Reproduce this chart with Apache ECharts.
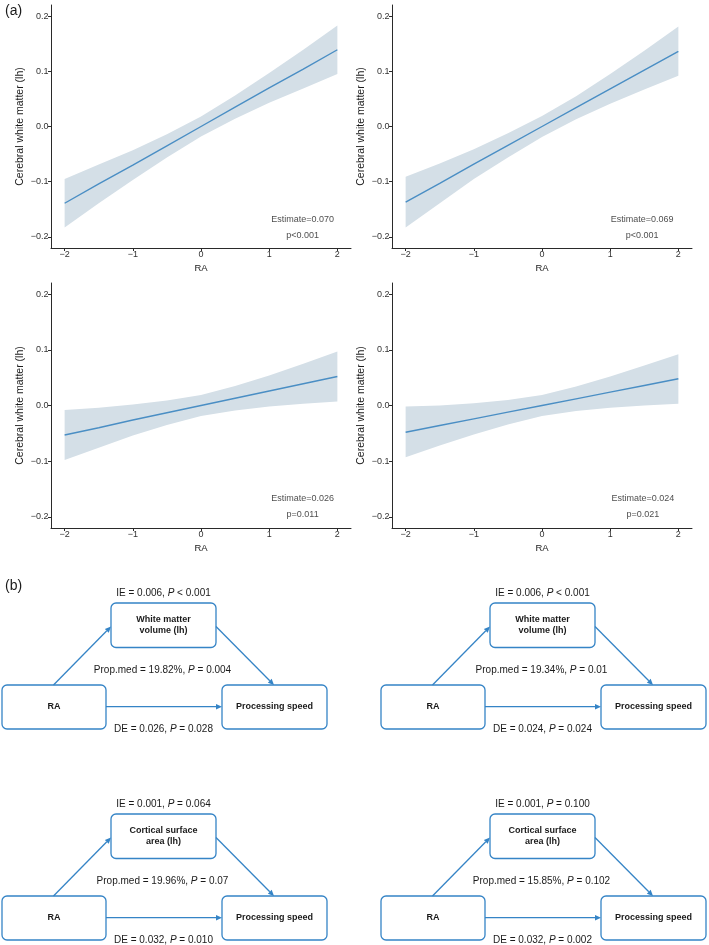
<!DOCTYPE html>
<html>
<head>
<meta charset="utf-8">
<script src="https://cdn.jsdelivr.net/npm/echarts@6/dist/echarts.min.js"></script>
<style>
html,body{margin:0;padding:0;background:#fff;}
#chart{width:709px;height:945px;}
</style>
</head>
<body>
<div id="chart"></div>
<script>
// ---------- Data: panel (a) ----------
const raGrid = [-2, -1.5, -1, -0.5, 0, 0.5, 1, 1.5, 2];
const xTicks = [-2, -1, 0, 1, 2];
const yTicks = [-0.2, -0.1, 0, 0.1, 0.2];

const fitA   = [-0.139, -0.104, -0.070, -0.035, 0.000, 0.035, 0.070, 0.104, 0.139];
const upperA = [-0.095, -0.069, -0.043, -0.014, 0.018, 0.056, 0.097, 0.139, 0.183];
const lowerA = [-0.183, -0.139, -0.097, -0.056, -0.018, 0.014, 0.043, 0.069, 0.095];

const fitB   = [-0.137, -0.103, -0.068, -0.034, 0.000, 0.034, 0.068, 0.102, 0.136];
const upperB = [-0.091, -0.067, -0.041, -0.012, 0.019, 0.055, 0.095, 0.137, 0.181];
const lowerB = [-0.183, -0.139, -0.095, -0.056, -0.019, 0.013, 0.041, 0.067, 0.092];

const fitC   = [-0.053, -0.040, -0.026, -0.013, 0.000, 0.013, 0.026, 0.039, 0.052];
const upperC = [-0.008, -0.004, 0.002, 0.009, 0.019, 0.035, 0.054, 0.075, 0.097];
const lowerC = [-0.098, -0.076, -0.054, -0.035, -0.019, -0.009, -0.002, 0.003, 0.007];

const fitD   = [-0.048, -0.036, -0.024, -0.012, 0.000, 0.012, 0.024, 0.036, 0.048];
const upperD = [-0.002, 0.000, 0.004, 0.010, 0.019, 0.034, 0.052, 0.072, 0.092];
const lowerD = [-0.093, -0.072, -0.052, -0.034, -0.019, -0.010, -0.004, 0.000, 0.003];

const estimateLabels = ['Estimate=0.070', 'Estimate=0.069', 'Estimate=0.026', 'Estimate=0.024'];
const pLabels = ['p<0.001', 'p<0.001', 'p=0.011', 'p=0.021'];
const yTitle = 'Cerebral white matter (lh)';
const xTitle = 'RA';

// ---------- Data: panel (b) ----------
const mediatorNames = ['White matter\nvolume (lh)', 'White matter\nvolume (lh)', 'Cortical surface\narea (lh)', 'Cortical surface\narea (lh)'];
const ieLabels   = ['IE = 0.006, {i|P} < 0.001', 'IE = 0.006, {i|P} < 0.001', 'IE = 0.001, {i|P} = 0.064', 'IE = 0.001, {i|P} = 0.100'];
const propLabels = ['Prop.med = 19.82%, {i|P} = 0.004', 'Prop.med = 19.34%, {i|P} = 0.01', 'Prop.med = 19.96%, {i|P} = 0.07', 'Prop.med = 15.85%, {i|P} = 0.102'];
const deLabels   = ['DE = 0.026, {i|P} = 0.028', 'DE = 0.024, {i|P} = 0.024', 'DE = 0.032, {i|P} = 0.010', 'DE = 0.032, {i|P} = 0.002'];
const exposureName = 'RA';
const outcomeName = 'Processing speed';

// ---------- Layout / style ----------
const FONT = '"Liberation Sans", Arial, Helvetica, sans-serif';
const panels = [
  {fit: fitA, up: upperA, lo: lowerA},
  {fit: fitB, up: upperB, lo: lowerB},
  {fit: fitC, up: upperC, lo: lowerC},
  {fit: fitD, up: upperD, lo: lowerD}
];
const gridBoxes = [
  {left: 51, top: 5, width: 300, height: 243},
  {left: 392, top: 5, width: 300, height: 243},
  {left: 51, top: 283, width: 300, height: 245},
  {left: 392, top: 283, width: 300, height: 245}
];
const annotPos = [[1.49, -0.168, -0.197], [1.47, -0.168, -0.197], [1.49, -0.167, -0.195], [1.48, -0.167, -0.195]];

const LINE_COLOR = '#4a8ec4';
const BAND_COLOR = '#d4dfe7';
const AXIS_COLOR = '#2a2a2a';
const BOX_COLOR = '#3584c6';
const TEXT_COLOR = '#1a1a1a';

function minusFmt(s) { return s.replace('-', '\u2212'); }

const grids = [], xAxes = [], yAxes = [], series = [];
panels.forEach((p, i) => {
  grids.push(Object.assign({containLabel: false}, gridBoxes[i]));
  xAxes.push({
    type: 'value', gridIndex: i, min: -2.2, max: 2.2,
    name: xTitle, nameLocation: 'middle', nameGap: 15,
    nameTextStyle: {fontFamily: FONT, fontSize: 9.5, color: TEXT_COLOR},
    splitLine: {show: false},
    axisLine: {onZero: false, lineStyle: {color: AXIS_COLOR, width: 1}},
    axisTick: {customValues: xTicks, length: 3, lineStyle: {color: AXIS_COLOR}},
    axisLabel: {customValues: xTicks, fontFamily: FONT, fontSize: 9, color: '#333', margin: 2.5,
      formatter: v => minusFmt(String(v))}
  });
  yAxes.push({
    type: 'value', gridIndex: i, min: -0.22, max: 0.22,
    name: yTitle, nameLocation: 'middle', nameGap: 25, nameRotate: 90,
    nameTextStyle: {fontFamily: FONT, fontSize: 10.5, color: TEXT_COLOR},
    splitLine: {show: false},
    axisLine: {onZero: false, lineStyle: {color: AXIS_COLOR, width: 1}},
    axisTick: {customValues: yTicks, length: 3, lineStyle: {color: AXIS_COLOR}},
    axisLabel: {customValues: yTicks, fontFamily: FONT, fontSize: 9, color: '#333', margin: 2.5,
      formatter: v => minusFmt(v.toFixed(1))}
  });
  // confidence band
  series.push({
    type: 'custom', xAxisIndex: i, yAxisIndex: i, silent: true, z: 1,
    data: [[0, 0]], encode: {x: 0, y: 1},
    renderItem: (params, api) => {
      const pts = [];
      raGrid.forEach((x, j) => pts.push(api.coord([x, p.up[j]])));
      for (let j = raGrid.length - 1; j >= 0; j--) pts.push(api.coord([raGrid[j], p.lo[j]]));
      return {type: 'polygon', shape: {points: pts}, style: {fill: BAND_COLOR}};
    }
  });
  // fitted line
  series.push({
    type: 'line', xAxisIndex: i, yAxisIndex: i, z: 3, silent: true,
    data: raGrid.map((x, j) => [x, p.fit[j]]),
    showSymbol: false, symbol: 'none',
    lineStyle: {color: LINE_COLOR, width: 1.4}
  });
  // annotations
  series.push({
    type: 'scatter', xAxisIndex: i, yAxisIndex: i, z: 4, silent: true,
    symbolSize: 1, itemStyle: {color: 'rgba(0,0,0,0)'},
    data: [[annotPos[i][0], annotPos[i][1]], [annotPos[i][0], annotPos[i][2]]],
    label: {show: true, position: 'inside', fontFamily: FONT, fontSize: 9, color: TEXT_COLOR,
      formatter: prm => prm.dataIndex === 0 ? estimateLabels[i] : pLabels[i]}
  });
});

// ---------- Diagrams (panel b) ----------
const graphics = [];
graphics.push({type: 'text', left: 5, top: 4, style: {text: '(a)', font: '14px ' + FONT, fill: TEXT_COLOR}});
graphics.push({type: 'text', left: 5, top: 579, style: {text: '(b)', font: '14px ' + FONT, fill: TEXT_COLOR}});

const diagramOrigins = [[2, 685], [381, 685], [2, 896], [381, 896]];
const rich = {i: {fontStyle: 'italic', fontFamily: FONT, fontSize: 10, fill: TEXT_COLOR}};

function addBox(x, y, w, h, label) {
  graphics.push({type: 'rect', shape: {x: x, y: y, width: w, height: h, r: 5},
    style: {fill: '#fff', stroke: BOX_COLOR, lineWidth: 1.3}, z: 10});
  graphics.push({type: 'text', x: x + w / 2, y: y + h / 2, z: 11,
    style: {text: label, font: 'bold 9px ' + FONT, fill: TEXT_COLOR, align: 'center', verticalAlign: 'middle', lineHeight: 11}});
}
function addArrow(x1, y1, x2, y2) {
  const L = 6, W = 2.7;
  const a = Math.atan2(y2 - y1, x2 - x1);
  const bx = x2 - L * Math.cos(a), by = y2 - L * Math.sin(a);
  graphics.push({type: 'line', shape: {x1: x1, y1: y1, x2: bx, y2: by}, style: {stroke: BOX_COLOR, lineWidth: 1.3}, z: 12});
  graphics.push({type: 'polygon', z: 12, shape: {points: [[x2, y2], [bx + W * Math.sin(a), by - W * Math.cos(a)], [bx - W * Math.sin(a), by + W * Math.cos(a)]]},
    style: {fill: BOX_COLOR}});
}
function addLabel(cx, cy, text) {
  graphics.push({type: 'text', x: cx, y: cy, z: 13,
    style: {text: text, rich: rich, font: '10px ' + FONT, fill: TEXT_COLOR, align: 'center', verticalAlign: 'middle'}});
}

diagramOrigins.forEach((o, i) => {
  const [ox, oy] = o;
  addBox(ox, oy, 104, 44, exposureName);
  addBox(ox + 109, oy - 82, 105, 44.5, mediatorNames[i]);
  addBox(ox + 220, oy, 105, 44, outcomeName);
  addArrow(ox + 51.5, oy, ox + 109, oy - 58.5);
  addArrow(ox + 214, oy - 58.5, ox + 272, oy);
  addArrow(ox + 104, oy + 21.7, ox + 220, oy + 21.7);
  addLabel(ox + 161.5, oy - 91.5, ieLabels[i]);
  addLabel(ox + 160.5, oy - 15, propLabels[i]);
  addLabel(ox + 161.5, oy + 44, deLabels[i]);
});

const chart = echarts.init(document.getElementById('chart'), null, {renderer: 'canvas'});
chart.setOption({
  animation: false,
  backgroundColor: '#ffffff',
  textStyle: {fontFamily: FONT},
  grid: grids,
  xAxis: xAxes,
  yAxis: yAxes,
  series: series,
  graphic: graphics
});
</script>
</body>
</html>
